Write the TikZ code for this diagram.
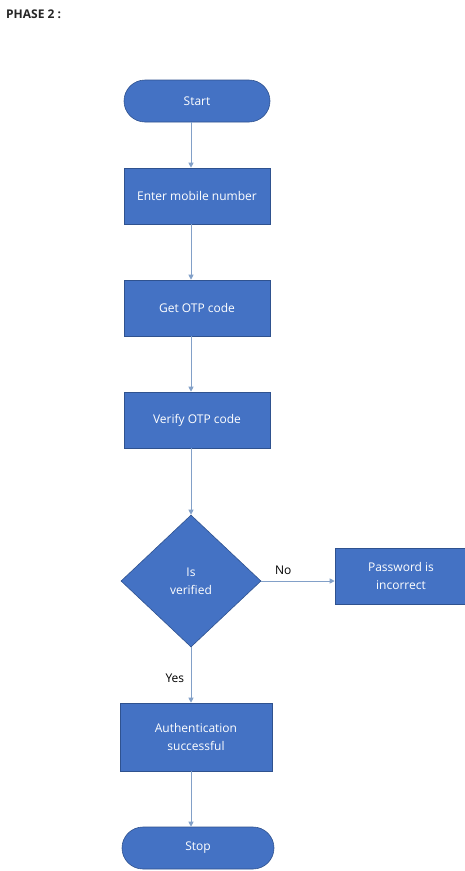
\documentclass[tikz,border=0pt]{standalone}
\usepackage{fontspec}
\setmainfont{Open Sans}
\usetikzlibrary{shapes.geometric,shapes.misc,arrows.meta}
\definecolor{boxfill}{RGB}{68,114,196}
\definecolor{boxedge}{RGB}{47,82,143}
\definecolor{flow}{RGB}{130,160,200}
\tikzset{
  base/.style={fill=boxfill, draw=boxedge, line width=0.6pt, text=white,
    font=\fontsize{12}{18}\selectfont, align=center, inner sep=0pt},
  terminal/.style={base, rounded rectangle, minimum width=146pt, minimum height=42pt},
  process/.style={base, rectangle, minimum width=146pt, minimum height=56pt},
  decision/.style={base, diamond, minimum width=140pt, minimum height=132pt},
  flowline/.style={draw=flow, line width=1pt, -{Triangle[length=5pt,width=5pt]}},
  lbl/.style={font=\fontsize{12}{14}\selectfont, text=black}
}
\begin{document}
\begin{tikzpicture}[x=1pt,y=-1pt]
\useasboundingbox (0,0) rectangle (465,871);
\fill[white] (0,0) rectangle (465,871);
\node[font=\bfseries\fontsize{12}{14}\selectfont, text=black!85, anchor=west, inner sep=0pt] (title) at (6,14) {PHASE 2 :};

\node[terminal] (start) at (197,101) {Start};
\node[process] (enter) at (197,196) {Enter mobile number};
\node[process] (otp) at (197,308) {Get OTP code};
\node[process] (verify) at (197,420) {Verify OTP code};
\node[decision] (dia) at (191,581) {Is\\verified};
\node[process, minimum width=132pt, minimum height=56pt] (wrong) at (401,576) {Password is\\incorrect};
\node[process, minimum width=152pt, minimum height=68pt] (auth) at (196,737) {Authentication\\successful};
\node[terminal, minimum width=152pt] (stop) at (198,848) {Stop};

\draw[flowline] (start.south -| dia.north) -- (enter.north -| dia.north);
\draw[flowline] (enter.south -| dia.north) -- (otp.north -| dia.north);
\draw[flowline] (otp.south -| dia.north) -- (verify.north -| dia.north);
\draw[flowline] (verify.south -| dia.north) -- (dia.north);
\draw[flowline] (dia.east) -- (wrong.west |- dia.east) node[lbl, pos=0.3, above=3pt] {No};
\draw[flowline] (dia.south) -- (auth.north -| dia.south) node[lbl, pos=0.55, left=3pt] {Yes};
\draw[flowline] (auth.south -| dia.south) -- (stop.north -| dia.south);
\end{tikzpicture}
\end{document}
